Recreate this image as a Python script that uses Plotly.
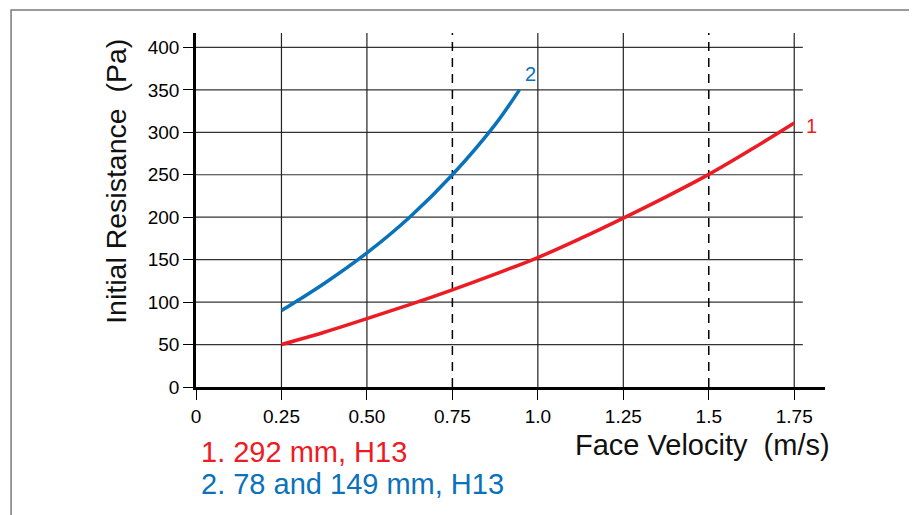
import plotly.graph_objects as go

# ---- data ----
x_ticks = [0, 0.25, 0.5, 0.75, 1.0, 1.25, 1.5, 1.75]
x_tick_labels = ["0", "0.25", "0.50", "0.75", "1.0", "1.25", "1.5", "1.75"]
y_ticks = [0, 50, 100, 150, 200, 250, 300, 350, 400]
dashed_x = [0.75, 1.5]

s1_name = "1. 292 mm, H13"
s1_x = [0.25, 0.375, 0.5, 0.625, 0.75, 0.875, 1.0, 1.125, 1.25, 1.375, 1.5, 1.625, 1.75]
s1_y = [50, 64.5, 80.5, 97, 114.5, 133, 152.5, 175, 199, 224, 250.5, 280, 311]

s2_name = "2. 78 and 149 mm, H13"
s2_x = [0.25, 0.375, 0.5, 0.625, 0.75, 0.875, 0.946]
s2_y = [90, 122, 158, 200, 250, 309, 350]

RED = "#EC1C24"
BLUE = "#0A72BA"
FONT = "Liberation Sans, Arial, sans-serif"

XMAX = 1.84
YMAX = 417

fig = go.Figure()
fig.add_trace(go.Scatter(x=s1_x, y=s1_y, mode="lines", line=dict(color=RED, width=3.5, shape="spline"),
                         showlegend=False, hoverinfo="skip"))
fig.add_trace(go.Scatter(x=s2_x, y=s2_y, mode="lines", line=dict(color=BLUE, width=3.5, shape="spline"),
                         showlegend=False, hoverinfo="skip"))

shapes = []
# horizontal grid
for yv in y_ticks[1:]:
    shapes.append(dict(type="line", xref="x", yref="y", x0=0, x1=1.775, y0=yv, y1=yv,
                       line=dict(color="#333333", width=1.2), layer="below"))
# vertical grid
for xv in x_ticks[1:]:
    if xv in dashed_x:
        ln = dict(color="#000000", width=1.5, dash="9px,7px")
    else:
        ln = dict(color="#222222", width=1.2, dash="solid")
    shapes.append(dict(type="line", xref="x", yref="y", x0=xv, x1=xv, y0=0, y1=YMAX,
                       line=ln, layer="below"))
# frame
shapes.append(dict(type="rect", xref="paper", yref="paper", x0=-0.294, x1=1.139, y0=-0.6, y1=1.065,
                   line=dict(color="#7a7a7a", width=1.5), layer="below"))

annotations = [
    dict(x=s2_x[-1] + 0.01, y=s2_y[-1] + 3, xref="x", yref="y", text="2", showarrow=False,
         xanchor="left", yanchor="bottom", font=dict(color=BLUE, size=20, family=FONT)),
    dict(x=s1_x[-1] + 0.03, y=s1_y[-1] - 3, xref="x", yref="y", text="1", showarrow=False,
         xanchor="left", yanchor="middle", font=dict(color=RED, size=20, family=FONT)),
    dict(x=1.011, y=-0.165, xref="paper", yref="paper", text="Face Velocity \u00a0(m/s)", showarrow=False,
         xanchor="right", yanchor="middle", font=dict(color="#111111", size=29, family=FONT)),
    dict(x=-0.127, y=0.58, xref="paper", yref="paper", text="Initial Resistance \u00a0(Pa)", showarrow=False,
         textangle=-90, xanchor="center", yanchor="middle", font=dict(color="#111111", size=28.5, family=FONT)),
    dict(x=0.004, y=-0.185, xref="paper", yref="paper", text=s1_name, showarrow=False,
         xanchor="left", yanchor="middle", font=dict(color=RED, size=29, family=FONT)),
    dict(x=0.004, y=-0.275, xref="paper", yref="paper", text=s2_name, showarrow=False,
         xanchor="left", yanchor="middle", font=dict(color=BLUE, size=29, family=FONT)),
]

fig.update_layout(
    width=917, height=515,
    margin=dict(l=188, r=100, t=25, b=136),
    paper_bgcolor="white", plot_bgcolor="white",
    font=dict(family=FONT, color="#111111"),
    shapes=shapes, annotations=annotations,
    showlegend=False,
)
fig.update_xaxes(range=[0, XMAX], tickvals=x_ticks, ticktext=x_tick_labels, showgrid=False, zeroline=False,
                 showline=True, linecolor="black", linewidth=2.5, ticks="outside", ticklen=10,
                 tickcolor="black", tickwidth=1.2, tickfont=dict(size=19, family=FONT, color="#000000"))
fig.update_yaxes(range=[0, YMAX], tickvals=y_ticks, showgrid=False, zeroline=False,
                 showline=True, linecolor="black", linewidth=2.5, ticks="outside", ticklen=10,
                 tickcolor="black", tickwidth=1.2, tickfont=dict(size=19, family=FONT, color="#000000"))

fig.write_html("out.html")
